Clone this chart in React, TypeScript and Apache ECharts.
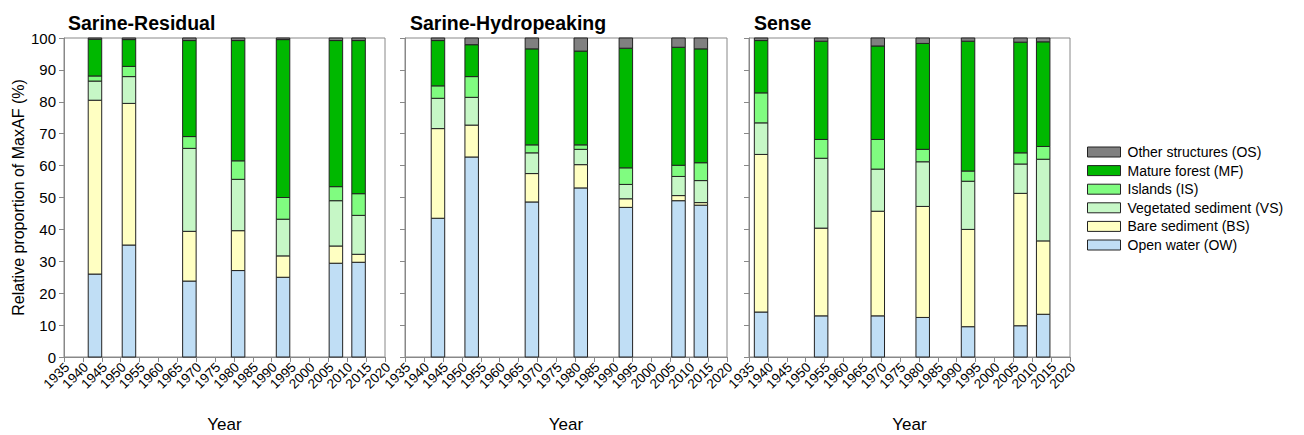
import React, { useEffect, useRef } from "react";
import * as echarts from "echarts";

const panelTitles = ["Sarine-Residual", "Sarine-Hydropeaking", "Sense"];
const classNames = [
  "Open water (OW)",
  "Bare sediment (BS)",
  "Vegetated sediment (VS)",
  "Islands (IS)",
  "Mature forest (MF)",
  "Other structures (OS)",
];
const classColors = ["#c0def5", "#ffffc2", "#c6f7c6", "#80fc80", "#00b800", "#808080"];

const yearsResidual = [1943.2, 1952.2, 1968.2, 1981.1, 1993.0, 2007.0, 2013.0];
const yearsHydro = [1943.7, 1952.6, 1968.5, 1981.4, 1993.3, 2007.2, 2013.1];
const yearsSense = [1938.2, 1954.1, 1969.1, 1981.0, 1993.0, 2006.9, 2012.9];

// Residual: OW, BS, VS, IS, MF, OS per year
const resOW = [26.0, 35.1, 23.8, 27.1, 25.0, 29.4, 29.7];
const resBS = [54.5, 44.4, 15.6, 12.5, 6.7, 5.4, 2.5];
const resVS = [6.0, 8.4, 26.0, 16.1, 11.5, 14.2, 12.2];
const resIS = [1.6, 3.2, 3.7, 5.8, 6.8, 4.4, 6.8];
const resMF = [11.5, 8.4, 30.1, 37.7, 49.5, 45.8, 48.0];
const resOS = [0.4, 0.5, 0.8, 0.8, 0.5, 0.8, 0.8];

const hydOW = [43.5, 62.7, 48.6, 53.0, 46.9, 49.0, 47.6];
const hydBS = [28.1, 10.0, 8.9, 7.3, 2.7, 1.6, 0.8];
const hydVS = [9.5, 8.7, 6.5, 4.8, 4.5, 6.0, 6.9];
const hydIS = [3.9, 6.5, 2.5, 1.4, 5.2, 3.5, 5.6];
const hydMF = [14.2, 10.0, 30.1, 29.4, 37.5, 37.0, 35.7];
const hydOS = [0.8, 2.1, 3.4, 4.1, 3.2, 2.9, 3.4];

const senOW = [14.1, 12.9, 12.9, 12.4, 9.5, 9.8, 13.4];
const senBS = [49.4, 27.5, 32.8, 34.8, 30.5, 41.5, 23.0];
const senVS = [9.9, 21.9, 13.2, 14.0, 15.1, 9.2, 25.6];
const senIS = [9.4, 5.9, 9.3, 3.9, 3.2, 3.5, 4.0];
const senMF = [16.4, 30.8, 29.3, 33.2, 40.7, 34.7, 32.8];
const senOS = [0.8, 1.0, 2.5, 1.7, 1.0, 1.3, 1.2];

const xTickLabels = [1935, 1940, 1945, 1950, 1955, 1960, 1965, 1970, 1975, 1980, 1985, 1990, 1995, 2000, 2005, 2010, 2015, 2020];

const panels = [
  { years: yearsResidual, values: [resOW, resBS, resVS, resIS, resMF, resOS] },
  { years: yearsHydro, values: [hydOW, hydBS, hydVS, hydIS, hydMF, hydOS] },
  { years: yearsSense, values: [senOW, senBS, senVS, senIS, senMF, senOS] },
];

const FONT = "Liberation Sans, Arial, sans-serif";
const BAR_W = 13.5;

export default function App() {
  const ref = useRef<HTMLDivElement>(null);
  useEffect(() => {
    document.body.style.margin = "0";
    if (!ref.current) return;
    const chart = echarts.init(ref.current, undefined, { renderer: "svg" });
    const gridBoxes = [
      { left: 64, top: 38, width: 321, height: 319 },
      { left: 405, top: 38, width: 322, height: 319 },
      { left: 749, top: 38, width: 321, height: 319 },
    ];
    const grids = gridBoxes.map((g) => ({
      ...g,
      show: true,
      borderColor: "#888",
      borderWidth: 1,
      backgroundColor: "transparent",
      containLabel: false,
      outerBoundsMode: "none",
    }));

    const xAxes = panels.map((_, i) => ({
      type: "value",
      gridIndex: i,
      min: xTickLabels[0],
      max: xTickLabels[xTickLabels.length - 1],
      interval: 5,
      name: "Year",
      nameLocation: "middle",
      nameGap: 59,
      nameTextStyle: { fontSize: 17, color: "#000", fontFamily: FONT },
      axisLine: { show: true, lineStyle: { color: "#888", width: 1 } },
      axisTick: { show: true, length: 5, lineStyle: { color: "#888" } },
      axisLabel: { show: false },
      splitLine: { show: false },
    }));

    const yAxes = panels.map((_, i) => ({
      type: "value",
      gridIndex: i,
      min: 0,
      max: 100,
      interval: 10,
      name: i === 0 ? "Relative proportion of MaxAF (%)" : "",
      nameLocation: "middle",
      nameGap: 38,
      nameTextStyle: { fontSize: 16, color: "#000", fontFamily: FONT },
      axisLine: { show: true, lineStyle: { color: "#888", width: 1 } },
      axisTick: { show: true, length: 5, lineStyle: { color: "#888" } },
      axisLabel: { show: i === 0, fontSize: 15, color: "#000", fontFamily: FONT, margin: 8 },
      splitLine: { show: false },
    }));

    const series: any[] = [];
    panels.forEach((p, i) => {
      const base = p.years.map(() => 0);
      classNames.forEach((name, k) => {
        const data = p.years.map((y, j) => {
          const lo = base[j];
          const hi = lo + p.values[k][j];
          base[j] = hi;
          return [y, lo, hi];
        });
        series.push({
          type: "custom",
          name,
          xAxisIndex: i,
          yAxisIndex: i,
          encode: { x: 0, y: [1, 2] },
          itemStyle: { color: classColors[k], borderColor: "#222", borderWidth: 1 },
          renderItem: (params: any, api: any) => {
            const x = api.value(0);
            const p0 = api.coord([x, api.value(1)]);
            const p1 = api.coord([x, api.value(2)]);
            return {
              type: "rect",
              shape: { x: p0[0] - BAR_W / 2, y: p1[1], width: BAR_W, height: p0[1] - p1[1] },
              style: { fill: classColors[k], stroke: "#222", lineWidth: 1 },
            };
          },
          data,
        });
      });
    });

    chart.setOption({
      animation: false,
      title: panelTitles.map((t, i) => ({
        text: t,
        left: [63, 405, 749][i],
        top: 8,
        textStyle: { fontSize: 19.5, fontWeight: "bold", color: "#000", fontFamily: FONT },
      })),
      grid: grids,
      xAxis: xAxes,
      yAxis: yAxes,
      legend: {
        orient: "vertical",
        left: 1082,
        top: 140,
        itemWidth: 33,
        itemHeight: 10,
        itemGap: 4.6,
        icon: "rect",
        itemStyle: { borderColor: "#222", borderWidth: 1 },
        data: [...classNames].reverse(),
        textStyle: { fontSize: 14, color: "#000", fontFamily: FONT, padding: [0, 0, 0, 2] },
        selectedMode: false,
      },
      series,
    });

    // rotated year tick labels, positioned through the x axes' own scales
    const labels: any[] = [];
    panels.forEach((_, i) => {
      const yPix = chart.convertToPixel({ yAxisIndex: i }, 0) as number;
      xTickLabels.forEach((v) => {
        const xPix = chart.convertToPixel({ xAxisIndex: i }, v) as number;
        labels.push({
          type: "text",
          x: xPix + 3,
          y: yPix + 8,
          rotation: Math.PI / 4,
          silent: true,
          style: {
            text: String(v),
            align: "right",
            verticalAlign: "middle",
            fontSize: 13.5,
            fontFamily: FONT,
            fill: "#000",
          },
        });
      });
    });
    chart.setOption({ graphic: labels });
    return () => chart.dispose();
  }, []);
  return <div ref={ref} style={{ width: 1304, height: 435 }} />;
}
